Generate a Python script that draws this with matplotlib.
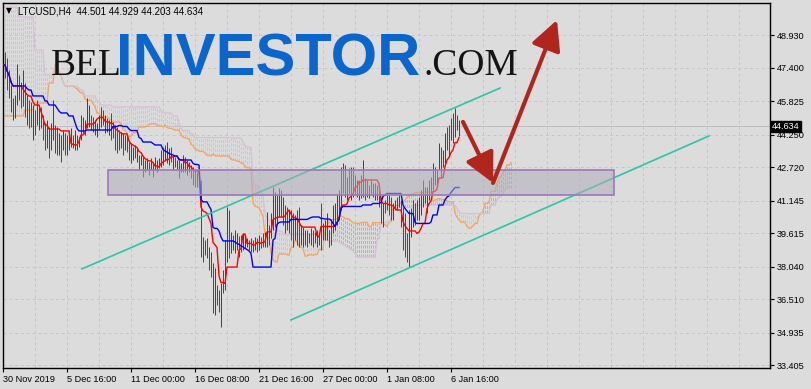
import matplotlib
matplotlib.use("Agg")
import matplotlib.pyplot as plt
from matplotlib.patches import Rectangle
import numpy as np
import pandas as pd

# H4 bars, LTCUSD
highs = [47.99, 48.14, 47.85, 47.29, 46.59, 45.97, 46.12, 47.57, 47.06, 46.73,
         47.29, 46.68, 46.12, 45.88, 45.79, 45.65, 45.41, 45.88, 45.65, 45.55,
         45.17, 44.80, 44.94, 44.61, 44.80, 45.88, 44.71, 44.61, 44.33, 44.23,
         44.47, 44.33, 44.23, 44.47, 44.56, 44.23, 44.47, 44.23, 44.14, 45.17,
         45.08, 44.94, 45.97, 45.65, 45.17, 45.08, 44.94, 44.80, 45.17, 45.55,
         45.41, 45.17, 45.03, 44.94, 45.27, 44.85, 44.71, 44.61, 44.47, 44.38,
         44.33, 44.23, 44.23, 44.00, 43.86, 43.67, 43.77, 43.62, 43.30, 43.30,
         43.20, 43.06, 43.15, 42.97, 43.15, 42.97, 43.20, 43.06, 43.15, 43.53,
         43.67, 43.77, 43.91, 43.62, 43.67, 43.30, 43.20, 43.06, 43.06, 42.92,
         43.30, 43.20, 43.06, 42.97, 42.83, 42.73, 42.59, 42.50, 42.36, 42.12,
         39.44, 39.30, 39.39, 38.97, 38.74, 38.22, 37.98, 37.19, 36.95, 37.28,
         37.89, 39.30, 40.84, 40.71, 39.68, 39.54, 39.77, 39.63, 39.49, 39.54,
         39.63, 39.44, 39.39, 39.30, 39.39, 39.30, 39.44, 39.39, 39.54, 39.44,
         39.63, 39.68, 40.62, 40.01, 40.57, 41.79, 41.56, 41.42, 41.74, 41.65,
         41.32, 40.95, 40.84, 40.71, 40.71, 40.57, 40.48, 40.71, 40.84, 40.01,
         39.91, 39.77, 39.77, 39.63, 39.86, 39.77, 39.68, 39.77, 39.63, 41.04,
         40.10, 40.24, 40.57, 39.77, 40.24, 40.95, 41.04, 41.42, 41.65, 42.73,
         42.92, 42.83, 42.26, 42.68, 42.73, 42.73, 42.36, 42.12, 42.12, 42.36,
         43.06, 42.21, 42.12, 41.89, 42.12, 41.98, 41.98, 41.89, 41.65, 41.32,
         41.04, 41.18, 41.51, 41.42, 41.32, 41.04, 41.18, 41.32, 41.42, 41.18,
         40.84, 40.57, 39.63, 40.71, 40.80, 41.18, 41.04, 41.18, 41.32, 41.65,
         42.12, 41.79, 41.79, 42.12, 42.26, 42.92, 42.73, 42.59, 43.86, 43.67,
         43.53, 44.33, 44.61, 44.71, 45.03, 45.27, 45.50, 45.17, 44.929]
lows = [47.06, 46.91, 46.35, 45.97, 45.32, 44.94, 45.03, 45.65, 45.88, 45.50,
        45.60, 45.08, 44.71, 44.56, 44.61, 44.00, 44.23, 44.71, 44.47, 44.56,
        44.00, 43.53, 43.62, 43.15, 43.53, 44.00, 43.39, 43.30, 43.30, 42.97,
        43.53, 43.30, 43.30, 43.53, 43.67, 43.62, 43.53, 43.53, 43.67, 44.00,
        44.33, 44.23, 44.56, 44.61, 44.47, 44.38, 44.23, 44.14, 44.47, 44.61,
        44.71, 44.33, 44.38, 44.23, 44.00, 44.09, 43.53, 43.39, 43.53, 43.62,
        43.30, 43.53, 43.44, 43.06, 42.92, 43.06, 43.15, 42.97, 42.59, 42.83,
        42.26, 42.50, 42.59, 42.36, 42.59, 42.26, 42.59, 42.50, 42.68, 42.73,
        42.83, 43.06, 42.92, 42.83, 42.97, 42.59, 42.73, 42.59, 42.21, 42.50,
        42.50, 42.50, 42.36, 42.50, 42.21, 41.89, 41.79, 41.79, 41.74, 38.50,
        38.27, 38.60, 38.45, 37.89, 37.56, 35.87, 35.78, 36.25, 35.92, 35.21,
        36.81, 36.95, 38.27, 38.45, 38.69, 38.83, 38.69, 38.83, 38.50, 38.74,
        38.83, 38.92, 38.97, 38.83, 38.74, 38.74, 38.83, 38.74, 38.83, 38.92,
        38.97, 38.97, 38.97, 39.07, 39.39, 39.77, 39.91, 40.01, 40.38, 40.38,
        40.01, 39.63, 39.77, 39.63, 39.30, 38.97, 39.30, 39.07, 38.97, 39.07,
        38.97, 39.07, 38.97, 39.16, 39.07, 38.97, 39.16, 38.97, 39.07, 38.83,
        39.30, 39.30, 39.30, 38.97, 39.07, 39.63, 39.77, 40.01, 40.57, 40.71,
        41.51, 41.32, 41.18, 41.51, 41.18, 41.32, 41.42, 41.32, 41.18, 41.27,
        41.32, 41.18, 41.32, 41.27, 41.42, 41.32, 41.18, 41.18, 40.84, 40.10,
        39.91, 40.57, 40.71, 40.48, 40.24, 40.24, 40.71, 40.71, 40.84, 39.91,
        38.83, 38.50, 38.27, 38.03, 39.44, 39.91, 40.01, 40.24, 40.24, 40.48,
        40.84, 41.04, 40.57, 41.18, 41.51, 41.65, 41.89, 41.79, 42.59, 42.26,
        42.73, 42.92, 43.53, 43.20, 44.00, 43.86, 44.14, 44.47, 44.203]
# r = bearish bar (red), d = bullish bar (dark)
bar_dirs = ("rrrrddddrr" "drdrrdrddr" "rrdrddrrdr" "drdrdrdrdd" "rdddrrddrd"
            "rdrdrrrrrd" "rdrrddrdrd" "rddrdrdddd" "ddddrdrdrd" "drddrrrddr"
            "rrrrrrdrrd" "rddrdrddrd" "dddrdddrdr" "rddrdddddr" "rrrdrrdrrd"
            "ddrddrdddr" "dddrrdddrd" "rrdrdrdddr" "drrdrddrrr" "drrrrdrddd"
            "rrrdddrddd" "drdddddddr" "ddrrdrdrd")

# cloud values on the first 26 bars (they come from bars before the window)
span_a_lead = [45.13] * 11 + [45.41] * 5 + [45.74] * 7 + [46.68] * 3
span_b_lead = [50.25] * 8 + [49.78] * 8 + [48.23] * 5 + [47.06] * 5

date_pos = [0, 32, 64, 96, 128, 160, 192, 224]
date_labels = ["30 Nov 2019", "5 Dec 16:00", "11 Dec 00:00", "16 Dec 08:00",
               "21 Dec 16:00", "27 Dec 00:00", "1 Jan 08:00", "6 Jan 16:00"]
price_ticks = [33.405, 34.935, 36.510, 38.040, 39.615, 41.145, 42.720,
               44.250, 45.825, 47.400, 48.930]
last_price = 44.634
header = "LTCUSD,H4  44.501 44.929 44.203 44.634"

# drawn objects: zone, channel, forecast arrows (bar index, price)
zone_x = [52.5, 305.5]
zone_y = [41.42, 42.59]
upper_x, upper_y = [39.5, 248.5], [37.94, 46.44]
lower_x, lower_y = [144, 353], [35.54, 44.19]
arrow_x = [230, 245, 277]
arrow_y = [44.85, 41.98, 49.64]

# ichimoku 9/26/52
h = pd.Series(highs)
l = pd.Series(lows)
tenkan = (h.rolling(9, min_periods=1).max() + l.rolling(9, min_periods=1).min()) / 2
kijun = (h.rolling(26, min_periods=1).max() + l.rolling(26, min_periods=1).min()) / 2
span_a = np.concatenate([span_a_lead, ((tenkan + kijun) / 2).values])
span_b = np.concatenate([span_b_lead, ((h.rolling(52, min_periods=1).max()
                                         + l.rolling(52, min_periods=1).min()) / 2).values])
idx = np.arange(len(highs))
cidx = np.arange(len(span_a))

W, H = 811, 389
fig = plt.figure(figsize=(W / 100, H / 100), dpi=100, facecolor="#dcdcdc")
ax = fig.add_axes([3 / W, 21 / H, 767 / W, 365 / H], facecolor="#dcdcdc")
ax.set_xlim(0, 383.5)
ax.set_ylim(33.28, 50.44)

# grid
for p in price_ticks:
    ax.axhline(p, color="#c6c6c6", lw=0.7, ls=(0, (3, 3)), zorder=0)
for g in range(16, 384, 16):
    ax.axvline(g, color="#c6c6c6", lw=0.7, ls=(0, (3, 3)), zorder=0)

# cloud
up = span_a >= span_b
ax.vlines(cidx[up], span_b[up], span_a[up], colors="#f4a460", lw=0.72,
          linestyles=(0, (3, 1.5)), snap=True, zorder=1)
ax.vlines(cidx[~up], span_a[~up], span_b[~up], colors="#d8bfd8", lw=0.72,
          linestyles=(0, (3, 1.5)), snap=True, zorder=1)
ax.plot(cidx, span_a, color="#f4a460", lw=0.9, zorder=1.5)
ax.plot(cidx, span_b, color="#d8bfd8", lw=0.9, zorder=1.5)

# bars
cols = ["#ff0000" if c == "r" else "#2f4f4f" for c in bar_dirs]
ax.vlines(idx, lows, highs, colors=cols, lw=0.72, snap=True, zorder=2)

ax.plot(idx, tenkan, color="#ff0000", lw=1.0, zorder=3)
ax.plot(idx, kijun, color="#0000ff", lw=1.0, zorder=3)

ax.axhline(last_price, color="#c0c0c0", lw=0.7, zorder=0.5)

# channel
ax.plot(upper_x, upper_y, color="#2ec4a8", lw=1.2, zorder=3.5)
ax.plot(lower_x, lower_y, color="#2ec4a8", lw=1.2, zorder=3.5)

# zone
ax.add_patch(Rectangle((zone_x[0], zone_y[0]), zone_x[1] - zone_x[0], zone_y[1] - zone_y[0],
                       facecolor="#aeaeb8", alpha=0.55, edgecolor="none", zorder=4))
ax.add_patch(Rectangle((zone_x[0], zone_y[0]), zone_x[1] - zone_x[0], zone_y[1] - zone_y[0],
                       facecolor="none", edgecolor="#9c78b8", lw=1.2, zorder=4.1))

# forecast arrows
for k in range(2):
    ax.annotate("", xy=(arrow_x[k + 1], arrow_y[k + 1]), xytext=(arrow_x[k], arrow_y[k]),
                arrowprops=dict(arrowstyle="-|>,head_length=0.75,head_width=0.38",
                                mutation_scale=24, color="#b0261c", lw=3,
                                shrinkA=0, shrinkB=0), zorder=5)

# axes
for s in ax.spines.values():
    s.set_color("black")
    s.set_linewidth(1.0)
ax.yaxis.tick_right()
ax.set_yticks(price_ticks)
ax.set_yticklabels([f"{p:.3f}" for p in price_ticks])
ax.set_xticks(date_pos)
ax.set_xticklabels(date_labels, ha="left")
ax.tick_params(axis="both", direction="out", length=3, width=0.8, color="black",
               labelsize=6.6, pad=2)
for t in ax.get_xticklabels() + ax.get_yticklabels():
    t.set_fontfamily("Liberation Sans")

ax.text(1.003, last_price, "44.634", transform=ax.get_yaxis_transform(),
        ha="left", va="center", color="white", fontsize=6.6, family="Liberation Sans",
        bbox=dict(boxstyle="square,pad=0.15", fc="black", ec="black"), zorder=10,
        clip_on=False)

# header and watermark
fig.text(6 / W, 1 - 11 / H, "▼", fontsize=5.5, va="center", ha="left", color="black")
fig.text(18 / W, 1 - 11 / H, header, fontsize=7, va="center", ha="left",
         family="Liberation Sans", color="black")
fig.text(51 / W, 1 - 75 / H, "BEL", fontsize=27, family="Liberation Serif",
         va="baseline", ha="left", color="#141414", zorder=6)
fig.text(116 / W, 1 - 75 / H, "INVESTOR", fontsize=43, family="Liberation Sans",
         weight="bold", va="baseline", ha="left", color="#0a66cc", zorder=6)
fig.text(424 / W, 1 - 75 / H, ".COM", fontsize=27, family="Liberation Serif",
         va="baseline", ha="left", color="#141414", zorder=6)

fig.savefig("out.png", dpi=100, facecolor=fig.get_facecolor())
